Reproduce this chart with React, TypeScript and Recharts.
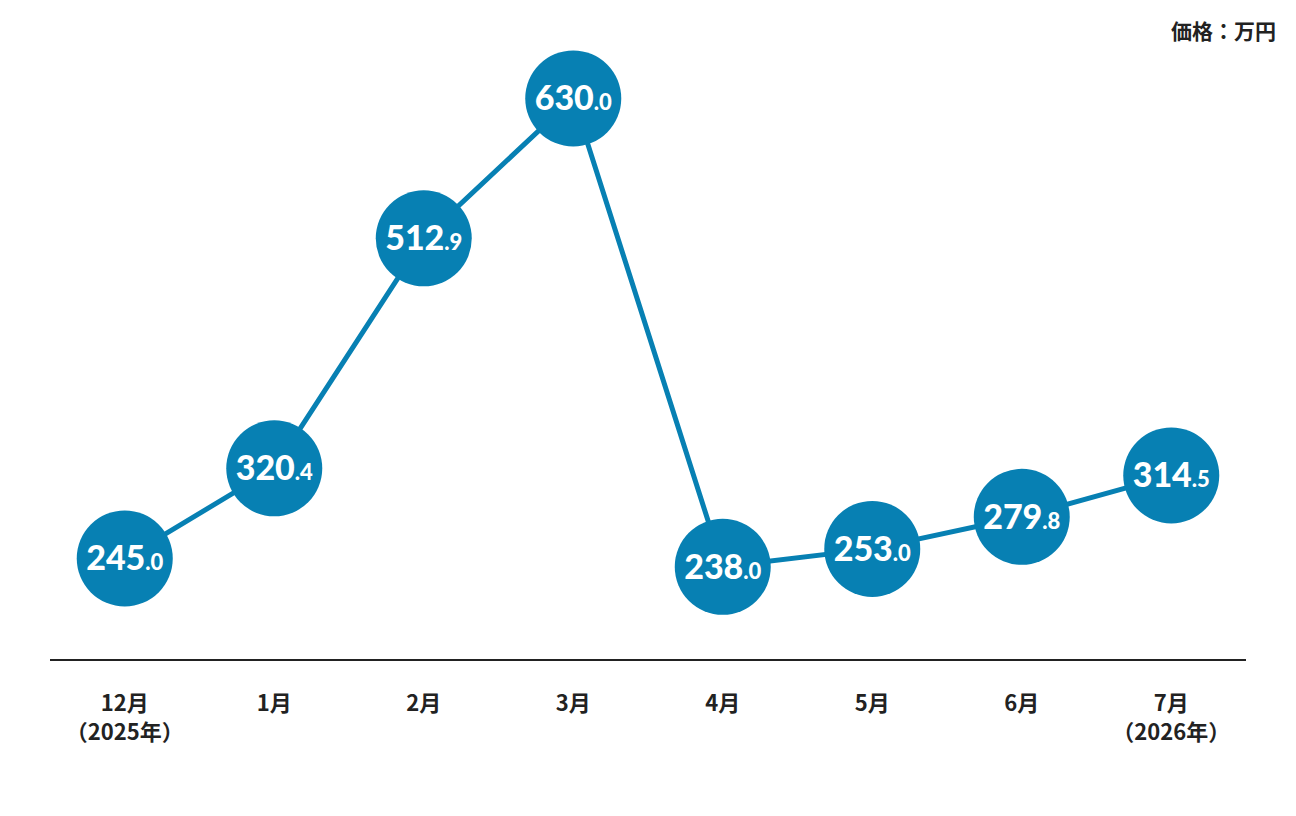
import React from 'react';
import { LineChart, Line, XAxis, YAxis } from 'recharts';

const months = ['12月', '1月', '2月', '3月', '4月', '5月', '6月', '7月'];
const years = ['（2025年）', '', '', '', '', '', '', '（2026年）'];
const prices = [245.0, 320.4, 512.9, 630.0, 238.0, 253.0, 279.8, 314.5];

const data = months.map((m, i) => ({ month: m, year: years[i], price: prices[i] }));

const BLUE = '#0780B3';

const Dot = (props: any) => {
  const { cx, cy, value } = props;
  const s = Number(value).toFixed(1);
  const [intPart, decPart] = s.split('.');
  return (
    <g>
      <circle cx={cx} cy={cy} r={48} fill={BLUE} />
      <text
        x={cx}
        y={cy + 12}
        textAnchor="middle"
        fill="#fff"
        fontFamily="Lato, 'Open Sans', sans-serif"
        fontWeight={900}
      >
        <tspan fontSize={34}>{intPart}</tspan>
        <tspan fontSize={22}>.{decPart}</tspan>
      </text>
    </g>
  );
};

const Tick = (props: any) => {
  const { x, y, payload, index } = props;
  const yr = years[index];
  return (
    <g>
      <text
        x={x}
        y={y + 43}
        textAnchor="middle"
        fill="#222"
        fontSize={22}
        fontWeight={700}
        fontFamily="'Noto Sans CJK JP', sans-serif"
      >
        {payload.value}
      </text>
      {yr ? (
        <text
          x={x}
          y={y + 72}
          textAnchor="middle"
          fill="#222"
          fontSize={22}
          fontWeight={700}
          fontFamily="'Noto Sans CJK JP', sans-serif"
        >
          {yr}
        </text>
      ) : null}
    </g>
  );
};

export default function App() {
  return (
    <div style={{ position: 'absolute', left: 0, top: 0, width: 1296, height: 816, background: '#fff' }}>
      <LineChart
        width={1296}
        height={816}
        data={data}
        margin={{ top: 14.8, right: 50, bottom: 96, left: 50 }}
      >
        <XAxis
          dataKey="month"
          scale="band"
          height={60}
          tickLine={false}
          axisLine={{ stroke: '#222', strokeWidth: 2 }}
          tick={<Tick />}
          interval={0}
        />
        <YAxis hide domain={[160, 700]} />
        <Line
          type="linear"
          dataKey="price"
          stroke={BLUE}
          strokeWidth={5}
          dot={<Dot />}
          activeDot={false}
          isAnimationActive={false}
        />
        <text
          x={1276}
          y={39}
          textAnchor="end"
          fill="#222"
          fontSize={21}
          fontWeight={700}
          fontFamily="'Noto Sans CJK JP', sans-serif"
        >
          価格：万円
        </text>
      </LineChart>
    </div>
  );
}
